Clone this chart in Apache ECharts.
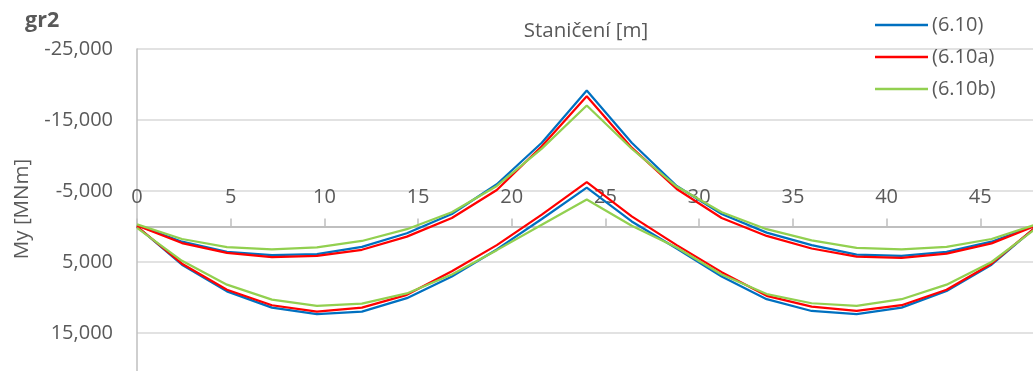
<!DOCTYPE html>
<html>
<head>
<meta charset="utf-8">
<script src="https://cdn.jsdelivr.net/npm/echarts@6/dist/echarts.min.js"></script>
<style>
html,body{margin:0;padding:0;background:#fff;}
#chart{width:1033px;height:371px;}
</style>
</head>
<body>
<div id="chart"></div>
<script>
// Station positions [m]
const stations = [0, 2.4, 4.8, 7.2, 9.6, 12, 14.4, 16.8, 19.2, 21.6, 24, 26.4, 28.8, 31.2, 33.6, 36, 38.4, 40.8, 43.2, 45.6, 48];

// (6.10) envelope
const s610Min = [-200, 2140, 3570, 4040, 3900, 2860, 950, -1760, -5950, -11800, -19140, -11800, -5710, -1760, 860, 2620, 3950, 4140, 3570, 2140, -200];
const s610Max = [0, 5380, 9140, 11430, 12330, 12000, 10090, 7040, 3230, -1050, -5480, -710, 3090, 7040, 10240, 11900, 12330, 11430, 9090, 5380, 0];

// (6.10a) envelope
const s610aMin = [-150, 2330, 3710, 4330, 4140, 3280, 1430, -1190, -5140, -11310, -18340, -11100, -5290, -1190, 1330, 3100, 4230, 4430, 3810, 2380, -150];
const s610aMax = [0, 5240, 8900, 11090, 12000, 11430, 9620, 6290, 2620, -1670, -6240, -1430, 2620, 6430, 9760, 11290, 11900, 11090, 8900, 5240, 0];

// (6.10b) envelope
const s610bMin = [-300, 1760, 2900, 3230, 2950, 2040, 380, -2000, -5710, -10960, -17050, -10950, -5620, -2000, 380, 1950, 3000, 3230, 2860, 1760, -300];
const s610bMax = [200, 4830, 8190, 10290, 11190, 10860, 9430, 6760, 3330, -240, -3810, -100, 2950, 6760, 9520, 10810, 11190, 10240, 8190, 5000, 200];

const seriesNames = ['(6.10)', '(6.10a)', '(6.10b)'];
const seriesColors = ['#0070C0', '#FF0000', '#92D050'];

const chartTitle = 'gr2';
const xAxisName = 'Staničení [m]';
const yAxisName = 'My [MNm]';

const FONT = '"Open Sans", "Noto Sans", sans-serif';
const TXT = '#595959';

function pairs(ys) { return stations.map((x, i) => [x, ys[i]]); }
function commas(v) {
  const s = Math.abs(v).toString().replace(/\B(?=(\d{3})+(?!\d))/g, ',');
  return (v < 0 ? '-' : '') + s;
}

const envelopes = [[s610Min, s610Max], [s610aMin, s610aMax], [s610bMin, s610bMax]];
const series = [];
envelopes.forEach((env, k) => {
  env.forEach(arr => {
    series.push({
      name: seriesNames[k],
      type: 'line',
      data: pairs(arr),
      symbol: 'none',
      showSymbol: false,
      lineStyle: { color: seriesColors[k], width: 2.25 },
      itemStyle: { color: seriesColors[k] },
      animation: false
    });
  });
});

const chart = echarts.init(document.getElementById('chart'), null, { renderer: 'canvas' });
chart.setOption({
  backgroundColor: '#ffffff',
  animation: false,
  title: {
    text: chartTitle,
    left: 25,
    top: 10,
    padding: 0,
    textStyle: { fontFamily: FONT, fontWeight: 'bold', fontSize: 21.5, color: TXT }
  },
  legend: {
    data: seriesNames,
    orient: 'vertical',
    left: 875,
    top: 15,
    padding: 0,
    itemWidth: 53,
    itemHeight: 2.5,
    itemGap: 12,
    icon: 'rect',
    textStyle: { fontFamily: FONT, fontSize: 20, color: TXT, padding: [0, 0, 0, -1] }
  },
  grid: {
    left: 137,
    top: 49,
    width: 937,
    height: 355,
    containLabel: false,
    outerBoundsMode: 'none'
  },
  xAxis: {
    type: 'value',
    min: 0,
    max: 50,
    interval: 5,
    position: 'top',
    offset: -177.5,
    axisLine: { show: true, onZero: false, lineStyle: { color: '#BFBFBF', width: 2 } },
    axisTick: { show: true, length: 8, lineStyle: { color: '#BFBFBF', width: 1.5 } },
    axisLabel: { fontFamily: FONT, fontSize: 20, color: TXT, margin: 19 },
    splitLine: { show: false }
  },
  yAxis: {
    type: 'value',
    min: -25000,
    max: 25000,
    interval: 10000,
    inverse: true,
    axisLine: { show: true, onZero: false, lineStyle: { color: '#BFBFBF', width: 1.5 } },
    axisTick: { show: false },
    axisLabel: { fontFamily: FONT, fontSize: 20, color: TXT, margin: 24, formatter: commas },
    splitLine: { show: true, lineStyle: { color: '#D9D9D9', width: 1.5 } }
  },
  graphic: [
    {
      type: 'text',
      x: 586,
      y: 31,
      style: { text: xAxisName, fill: TXT, font: '20.5px ' + FONT, align: 'center', verticalAlign: 'middle' }
    },
    {
      type: 'text',
      x: 22,
      y: 209,
      rotation: Math.PI / 2,
      style: { text: yAxisName, fill: TXT, font: '20.5px ' + FONT, align: 'center', verticalAlign: 'middle' }
    }
  ],
  series: series
});
</script>
</body>
</html>
